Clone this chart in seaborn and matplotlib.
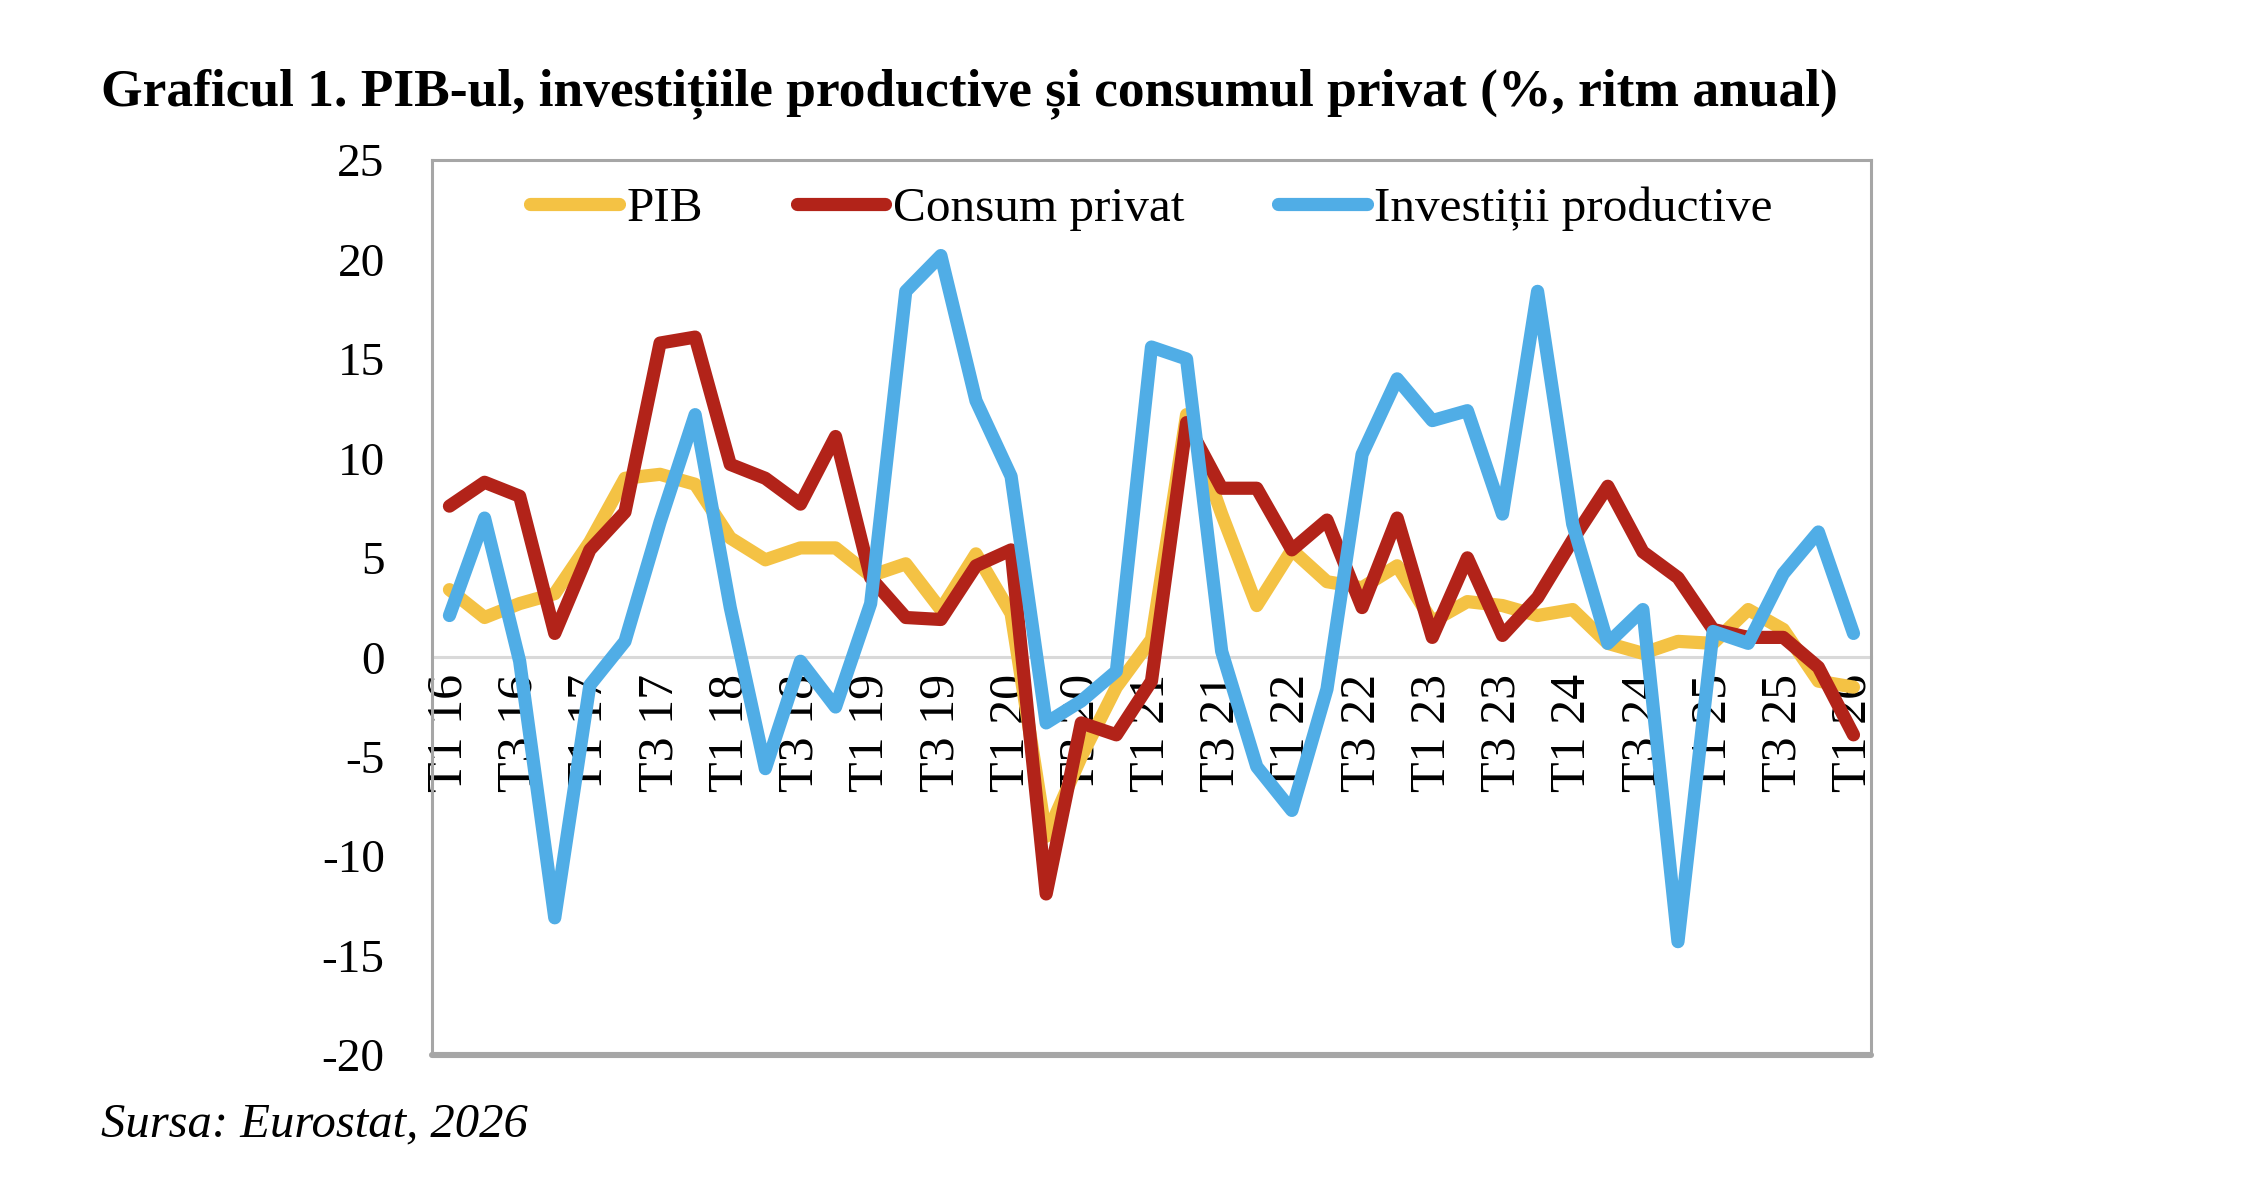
import pandas as pd
import seaborn as sns
import matplotlib.pyplot as plt

# Quarters T1 16 ... T1 26
quarters = [f'T{q} {y}' for y in range(16, 26) for q in range(1, 5)] + ['T1 26']

pib = [3.4, 2.0, 2.7, 3.2, 5.8, 9.0, 9.2, 8.7, 6.0, 4.9,
       5.5, 5.5, 4.1, 4.7, 2.4, 5.2, 2.2, -9.0, -5.0, -1.5,
       0.9, 12.2, 7.2, 2.6, 5.4, 3.8, 3.5, 4.6, 1.8, 2.8,
       2.6, 2.1, 2.4, 0.7, 0.2, 0.8, 0.7, 2.4, 1.4, -1.2,
       -1.5]
consum = [7.6, 8.8, 8.1, 1.2, 5.4, 7.3, 15.8, 16.1, 9.7, 9.0,
          7.7, 11.1, 4.0, 2.0, 1.9, 4.6, 5.4, -11.9, -3.3, -3.9,
          -1.2, 11.8, 8.5, 8.5, 5.4, 6.9, 2.5, 7.0, 1.0, 5.0,
          1.1, 3.0, 5.9, 8.6, 5.3, 4.0, 1.4, 1.0, 1.0, -0.5,
          -3.9]
investitii = [2.1, 7.0, -0.2, -13.1, -1.4, 0.8, 6.8, 12.2, 2.5, -5.6,
              -0.2, -2.5, 2.7, 18.4, 20.2, 12.9, 9.1, -3.3, -2.2, -0.7,
              15.6, 15.0, 0.3, -5.5, -7.7, -1.6, 10.2, 14.0, 11.9, 12.4,
              7.2, 18.4, 6.7, 0.7, 2.4, -14.3, 1.3, 0.7, 4.2, 6.3,
              1.2]

series_names = ['PIB', 'Consum privat', 'Investiții productive']
colors = ['#F4C244', '#B22319', '#50ADE6']

df = pd.DataFrame({'Trimestru': range(len(quarters)),
                   'PIB': pib, 'Consum privat': consum,
                   'Investiții productive': investitii})
long_df = df.melt(id_vars='Trimestru', var_name='Serie', value_name='Valoare')

sns.set_theme(style='white')
plt.rcParams['font.family'] = ['Liberation Serif', 'DejaVu Serif']
plt.rcParams['axes.unicode_minus'] = False

fig = plt.figure(figsize=(22.66, 12), dpi=100)
ax = fig.add_axes([0.1906, 0.1208, 0.6351, 0.7458])

sns.lineplot(data=long_df, x='Trimestru', y='Valoare', hue='Serie',
             hue_order=series_names, palette=colors, linewidth=9.5,
             solid_joinstyle='round', solid_capstyle='round', ax=ax)

# spines first: moving a spine resets the tick settings
for side in ['top', 'left', 'right']:
    ax.spines[side].set_color('#A6A6A6')
    ax.spines[side].set_linewidth(2.2)
ax.spines['bottom'].set_position(('data', 0))
ax.spines['bottom'].set_color('#D9D9D9')
ax.spines['bottom'].set_linewidth(2.2)
ax.spines['bottom'].set_zorder(1)
ax.axhline(-20, color='#A6A6A6', linewidth=4.4, clip_on=False, zorder=0)
ax.set_axisbelow(True)  # lines drawn over the quarter labels

ax.set_xlim(-0.5, len(quarters) - 0.5)
ax.set_ylim(-20, 25)
ax.set_yticks(range(-20, 26, 5))
ax.set_xticks(range(0, len(quarters), 2))
ax.set_xticklabels(quarters[::2])
ax.tick_params(axis='y', labelsize=34, length=0, pad=34, labelcolor='black')
ax.tick_params(axis='x', labelsize=36, length=0, pad=12, labelcolor='black',
               labelrotation=90)
ax.set_xlabel('')
ax.set_ylabel('')

handles, labels = ax.get_legend_handles_labels()
ax.legend(handles, labels, loc='upper center', bbox_to_anchor=(0.5, 1.02),
          ncol=3, frameon=False, fontsize=35.5, handlelength=1.8,
          handletextpad=0.15, columnspacing=1.9, labelcolor='black')

fig.text(0.0446, 0.922, 'Graficul 1. PIB-ul, investițiile productive și consumul privat (%, ritm anual)',
         fontsize=38.5, fontweight='bold', va='center', ha='left', color='black')
fig.text(0.0446, 0.063, 'Sursa: Eurostat, 2026', fontsize=35, style='italic',
         va='center', ha='left', color='black')

plt.savefig('out.png', dpi=100, facecolor='white')
